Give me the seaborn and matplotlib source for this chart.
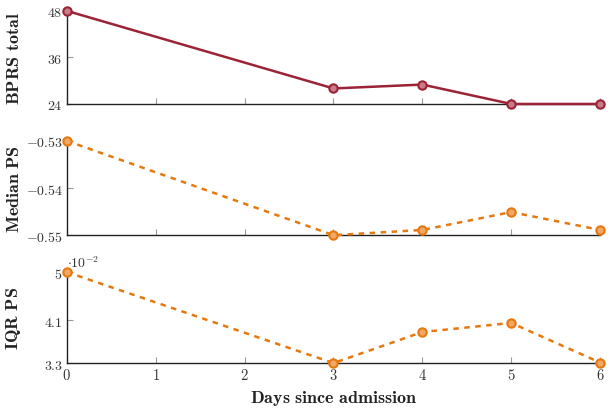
import matplotlib
matplotlib.use("Agg")
import matplotlib.pyplot as plt
import seaborn as sns
import pandas as pd

# data
days = [0, 3, 4, 5, 6]
bprs_total = [48, 28, 29, 24, 24]
median_ps = [-0.53, -0.55, -0.5489, -0.5451, -0.5489]
iqr_ps = [5.0, 3.3, 3.88, 4.05, 3.31]  # x 10^-2

df = pd.DataFrame({"day": days, "bprs": bprs_total, "median": median_ps, "iqr": iqr_ps})

sns.set_style("white")
plt.rcParams["mathtext.fontset"] = "cm"
plt.rcParams["font.family"] = ["DejaVu Serif"]

red = "#9b2335"
red_face = "#c97b86"
orange = "#e5780e"
orange_face = "#f2a766"

fig = plt.figure(figsize=(6.08, 4.10), dpi=100)
left, width = 0.110, 0.877
ax1 = fig.add_axes([left, 0.744, width, 0.227])
ax2 = fig.add_axes([left, 0.424, width, 0.230])
ax3 = fig.add_axes([left, 0.112, width, 0.222])

sns.lineplot(data=df, x="day", y="bprs", ax=ax1, color=red, lw=1.8,
             marker="o", markersize=6, markerfacecolor=red_face,
             markeredgecolor=red, markeredgewidth=1.5, clip_on=False, zorder=5)
sns.lineplot(data=df, x="day", y="median", ax=ax2, color=orange, lw=1.8,
             linestyle=(0, (2.2, 2.2)),
             marker="o", markersize=6, markerfacecolor=orange_face,
             markeredgecolor=orange, markeredgewidth=1.5, clip_on=False, zorder=5)
sns.lineplot(data=df, x="day", y="iqr", ax=ax3, color=orange, lw=1.8,
             linestyle=(0, (2.2, 2.2)),
             marker="o", markersize=6, markerfacecolor=orange_face,
             markeredgecolor=orange, markeredgewidth=1.5, clip_on=False, zorder=5)

setup = [
    (ax1, (24, 48), [24, 36, 48], ["$24$", "$36$", "$48$"], r"$\mathbf{BPRS\ total}$"),
    (ax2, (-0.55, -0.53), [-0.55, -0.54, -0.53], ["$-0.55$", "$-0.54$", "$-0.53$"], r"$\mathbf{Median\ PS}$"),
    (ax3, (3.3, 5.0), [3.3, 4.1, 5.0], ["$3.3$", "$4.1$", "$5$"], r"$\mathbf{IQR\ PS}$"),
]
for ax, ylim, yt, ytl, lab in setup:
    ax.set_xlim(0, 6)
    ax.set_ylim(*ylim)
    ax.set_yticks(yt)
    ax.set_yticklabels(ytl, fontsize=10, color="#333333")
    ax.set_xticks(range(7))
    for s in ["top", "right"]:
        ax.spines[s].set_visible(False)
    for s in ["left", "bottom"]:
        ax.spines[s].set_color("#222222")
        ax.spines[s].set_linewidth(1.0)
    ax.tick_params(direction="in", length=4, width=0.8, color="#999999", pad=3,
                   bottom=True, left=True)
    ax.set_ylabel(lab, fontsize=13, color="#222222")
    ax.yaxis.set_label_coords(-0.083, 0.5)
    ax.set_xlabel("")

ax1.set_xticklabels([])
ax2.set_xticklabels([])
ax3.set_xticklabels([f"${d}$" for d in range(7)], fontsize=10.5, color="#333333")
ax3.set_xlabel(r"$\mathbf{Days\ since\ admission}$", fontsize=13, color="#222222", labelpad=4)
ax3.text(0.0, 1.02, r"$\cdot 10^{-2}$", transform=ax3.transAxes, fontsize=10,
         color="#333333", ha="left", va="bottom")

fig.savefig("out.png", dpi=100)
